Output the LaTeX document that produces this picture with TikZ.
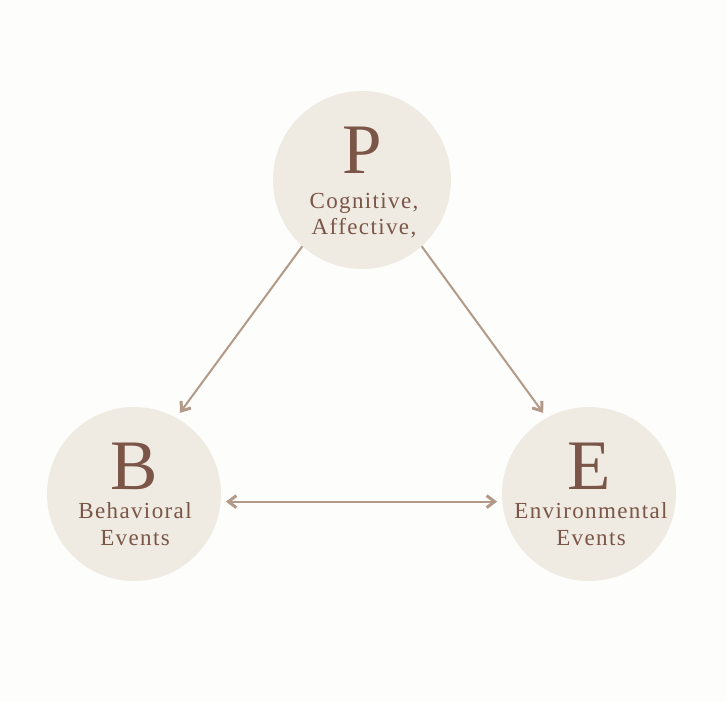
\documentclass[tikz,border=0pt]{standalone}
\usepackage{fontspec}
\setmainfont{Liberation Serif}
\newfontfamily\spacedfont[LetterSpace=6]{Liberation Serif}
\usetikzlibrary{arrows.meta}
\definecolor{bgcream}{HTML}{FDFDFB}
\definecolor{bubblefill}{HTML}{EFEBE2}
\definecolor{inkbrown}{HTML}{7A5548}
\definecolor{arrowtan}{HTML}{B39A88}
\begin{document}
\begin{tikzpicture}[x=1pt, y=-1pt,
  bubble/.style={circle, fill=bubblefill, minimum size=174pt, inner sep=0pt},
  letter/.style={anchor=base, text=inkbrown, inner sep=0pt, font=\fontsize{71}{71}\selectfont},
  caption/.style={anchor=base, text=inkbrown, inner sep=0pt, font=\spacedfont\fontsize{23}{27}\selectfont},
  barb/.tip={Straight Barb[length=8pt,width=12pt,line width=3pt]},
  link/.style={draw=arrowtan, line width=2pt, -barb, shorten >=6pt}]
  \fill[bgcream] (0,0) rectangle (726,702);
  \useasboundingbox (0,0) rectangle (726,702);
  % the three circles
  \node[bubble, minimum size=178pt] (P) at (362,180) {};
  \node[bubble] (B) at (134,494) {};
  \node[bubble] (E) at (589,494) {};
  % texts
  \node[letter] (Pletter) at (362,173) {P};
  \node[caption] (Pline1) at (364,208) {Cognitive,};
  \node[caption] (Pline2) at (364,234) {Affective,};
  \node[letter] (Bletter) at (134,489) {B};
  \node[caption] (Bline1) at (135,518) {Behavioral};
  \node[caption] (Bline2) at (135,545) {Events};
  \node[letter] (Eletter) at (589,489) {E};
  \node[caption] (Eline1) at (591,518) {Environmental};
  \node[caption] (Eline2) at (591,545) {Events};
  % arrows
  \draw[link] (P.228) -- (B.61);
  \draw[link] (P.312) -- (E.119);
  \draw[link, barb-barb, shorten <=5pt, shorten >=5pt] (B.-5) -- (E.185);
\end{tikzpicture}
\end{document}
